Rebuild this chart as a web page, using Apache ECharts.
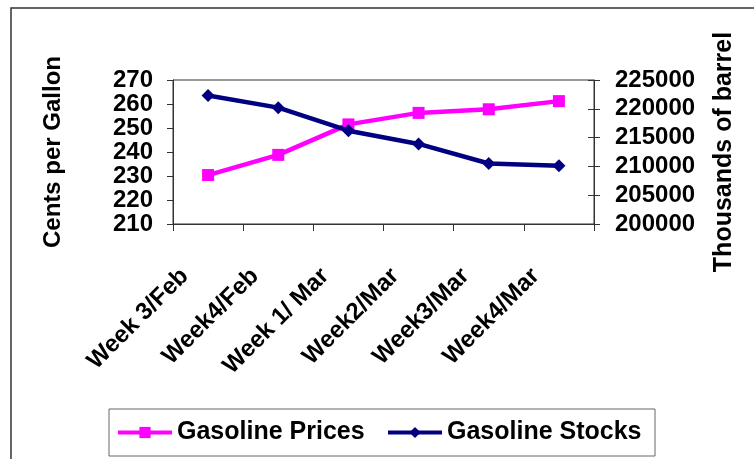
<!DOCTYPE html>
<html>
<head>
<meta charset="utf-8">
<script src="https://cdn.jsdelivr.net/npm/echarts@6/dist/echarts.min.js"></script>
<style>
  html, body { margin: 0; padding: 0; background: #fff; }
  #chart { width: 754px; height: 459px; }
</style>
</head>
<body>
<div id="chart"></div>
<script>
const categories = ['Week 3/Feb', 'Week4/Feb', 'Week 1/ Mar', 'Week2/Mar', 'Week3/Mar', 'Week4/Mar'];
const gasolinePrices = [230.4, 238.8, 251.5, 256.3, 257.8, 261.2];
const gasolineStocks = [222300, 220200, 216200, 213900, 210500, 210100];

const FONT = '"Liberation Sans", Arial, sans-serif';
const AXIS_COLOR = '#333';

const chart = echarts.init(document.getElementById('chart'));

const option = {
  animation: false,
  backgroundColor: '#fff',
  textStyle: { fontFamily: FONT },
  graphic: [{
    type: 'rect',
    shape: { x: 11, y: 8, width: 760, height: 470 },
    style: { fill: 'none', stroke: '#333', lineWidth: 1.5 },
    silent: true
  }],
  grid: {
    left: 173,
    right: 160,
    top: 80,
    bottom: 235,
    show: true,
    borderColor: AXIS_COLOR,
    borderWidth: 1
  },
  legend: {
    left: 109,
    top: 409,
    padding: [11, 8, 11, 7],
    borderColor: '#666',
    borderWidth: 1,
    itemGap: 9,
    itemWidth: 54,
    itemHeight: 14,
    lineStyle: { width: 4 },
    textStyle: {
      fontFamily: FONT,
      fontSize: 25,
      fontWeight: 'bold',
      color: '#000',
      lineHeight: 24,
      width: 200
    },
    data: ['Gasoline Prices', 'Gasoline Stocks']
  },
  xAxis: {
    type: 'category',
    data: categories,
    boundaryGap: true,
    axisLine: { lineStyle: { color: AXIS_COLOR, width: 1 } },
    axisTick: { show: true, length: 7, lineStyle: { color: AXIS_COLOR } },
    axisLabel: {
      rotate: 45,
      interval: 0,
      margin: 25,
      padding: [0, 33, 0, 0],
      fontFamily: FONT,
      fontSize: 24,
      fontWeight: 'bold',
      color: '#000'
    },
    splitLine: { show: false }
  },
  yAxis: [{
    type: 'value',
    position: 'left',
    min: 210,
    max: 270,
    interval: 10,
    name: 'Cents per Gallon',
    nameLocation: 'middle',
    nameRotate: 90,
    nameGap: 108,
    nameTextStyle: { fontFamily: FONT, fontSize: 24, fontWeight: 'bold', color: '#000' },
    axisLine: { show: true, lineStyle: { color: AXIS_COLOR, width: 1 } },
    axisTick: { show: true, length: 6, lineStyle: { color: AXIS_COLOR } },
    axisLabel: { margin: 20, fontFamily: FONT, fontSize: 24, fontWeight: 'bold', color: '#000' },
    splitLine: { show: false }
  }, {
    type: 'value',
    position: 'right',
    min: 200000,
    max: 225000,
    interval: 5000,
    name: 'Thousands of barrel',
    nameLocation: 'middle',
    nameRotate: 90,
    nameGap: 118,
    nameTextStyle: { fontFamily: FONT, fontSize: 25, fontWeight: 'bold', color: '#000' },
    axisLine: { show: true, lineStyle: { color: AXIS_COLOR, width: 1 } },
    axisTick: { show: true, length: 6, lineStyle: { color: AXIS_COLOR } },
    axisLabel: {
      margin: 21,
      fontFamily: FONT,
      fontSize: 24,
      fontWeight: 'bold',
      color: '#000',
      formatter: v => String(v)
    },
    splitLine: { show: false }
  }, {
    // inner half of the crossing ticks on the right axis
    type: 'value',
    position: 'right',
    min: 200000,
    max: 225000,
    interval: 5000,
    axisLine: { show: false },
    axisTick: { show: true, inside: true, length: 6, lineStyle: { color: AXIS_COLOR } },
    axisLabel: { show: false },
    splitLine: { show: false }
  }],
  series: [{
    name: 'Gasoline Prices',
    type: 'line',
    yAxisIndex: 0,
    data: gasolinePrices,
    color: '#FF00FF',
    lineStyle: { width: 4.5, color: '#FF00FF' },
    symbol: 'rect',
    symbolSize: 12,
    itemStyle: { color: '#FF00FF' },
    z: 2
  }, {
    name: 'Gasoline Stocks',
    type: 'line',
    yAxisIndex: 1,
    data: gasolineStocks,
    color: '#000080',
    lineStyle: { width: 4.5, color: '#000080' },
    symbol: 'diamond',
    symbolSize: 13,
    itemStyle: { color: '#000080' },
    z: 3
  }]
};

chart.setOption(option);
</script>
</body>
</html>
